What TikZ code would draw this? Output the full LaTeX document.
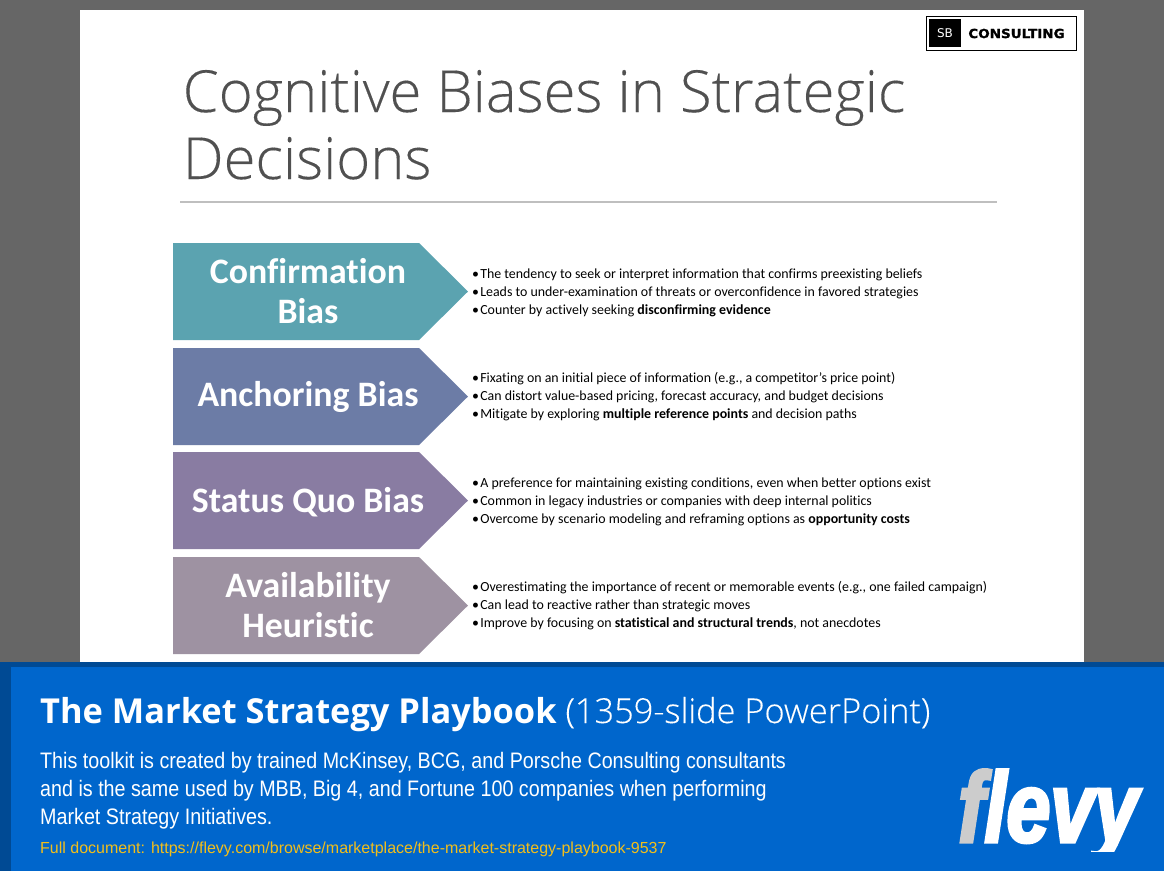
\documentclass[tikz,border=0pt]{standalone}
\usepackage{fontspec}
\setmainfont[RawFeature={-liga;-clig}]{Carlito}
\newfontfamily\titlefont[FakeBold=0.2]{Open Sans Light}
\newfontfamily\bandfont{Open Sans}
\newfontfamily\arialfont[FakeStretch=0.88]{Liberation Sans}
\newfontfamily\linkfont{Liberation Sans}
\newfontfamily\logofont{DejaVu Sans}
\newfontfamily\logoboldfont[FakeStretch=1.08,FakeBold=1.5]{DejaVu Sans Bold}
\newfontfamily\flevyfont[FakeStretch=0.79,FakeBold=3]{Liberation Sans Bold Italic}
\definecolor{slidegray}{HTML}{666666}
\definecolor{banddark}{HTML}{004A94}
\definecolor{bandblue}{HTML}{0066CC}
\definecolor{titlegray}{HTML}{505050}
\definecolor{rulegray}{HTML}{BFBFBF}
\definecolor{linkyellow}{HTML}{F2BE1A}
\definecolor{flevygray}{HTML}{CCCCCC}
\definecolor{biasteal}{HTML}{5BA3B0}
\definecolor{biasblue}{HTML}{6C7CA6}
\definecolor{biaspurple}{HTML}{897CA2}
\definecolor{biasmauve}{HTML}{9E92A2}
\newcommand{\bul}{•\kern1.2pt}
\tikzset{
  biastext/.style = {text = white, align = center, font = \fontsize{35.8}{40}\selectfont\bfseries},
  pointtext/.style = {anchor = base west, align = left, inner sep = 0pt,
    font = \fontsize{13.9}{18}\selectfont},
  bandtext/.style = {anchor = base west, inner sep = 0pt, text = white}
}
\begin{document}
\begin{tikzpicture}[x = 1pt, y = -1pt]
\useasboundingbox (0, 0) rectangle (1164, 871);
\fill[color = slidegray] (0, 0) rectangle (1164, 871);
\fill[color = white] (80, 10) rectangle (1084, 662);
% logo top right
\draw[line width = 1pt, fill = white] (926.5, 16.5) rectangle (1076.5, 50.5);
\fill[color = black] (929, 19) rectangle (961, 47);
\node (sbmark) at (945, 33) [text = white, inner sep = 0pt, font = \logofont\fontsize{12}{12}\selectfont] {SB};
\node (sbname) at (1016.5, 33.5) [inner sep = 0pt, font = \logoboldfont\fontsize{12.5}{12}\selectfont] {CONSULTING};
% title
\node (slidetitle) at (182.5, 179) [anchor = base west, inner sep = 0pt, align = left, text = titlegray,
  font = \titlefont\fontsize{58}{67}\selectfont] {Cognitive Biases in Strategic\\Decisions};
\draw[color = rulegray, line width = 1.2pt] (180, 202) to (997, 202);
% the four arrows
\foreach \top/\col in {243/biasteal, 348/biasblue, 452/biaspurple, 557/biasmauve}
  \fill[color = \col] (173, \top) -- (419, \top) -- (468, \top + 48.5) -- (419, \top + 97) -- (173, \top + 97) -- cycle;
\node (confirmation) at (308, 291) [biastext] {Confirmation\\Bias};
\node (anchoring) at (308, 397) [biastext] {Anchoring Bias};
\node (statusquo) at (308, 502) [biastext] {Status Quo Bias};
\node (availability) at (308, 605) [biastext] {Availability\\Heuristic};
% bullets
\node (confirmpoints) at (472, 314.5) [pointtext] {
  \bul The tendency to seek or interpret information that confirms preexisting beliefs\\
  \bul Leads to under-examination of threats or overconfidence in favored strategies\\
  \bul Counter by actively seeking \textbf{disconfirming evidence}};
\node (anchorpoints) at (472, 418.5) [pointtext] {
  \bul Fixating on an initial piece of information (e.g., a competitor’s price point)\\
  \bul Can distort value-based pricing, forecast accuracy, and budget decisions\\
  \bul Mitigate by exploring \textbf{multiple reference points} and decision paths};
\node (statuspoints) at (472, 523.5) [pointtext] {
  \bul A preference for maintaining existing conditions, even when better options exist\\
  \bul Common in legacy industries or companies with deep internal politics\\
  \bul Overcome by scenario modeling and reframing options as \textbf{opportunity costs}};
\node (availpoints) at (472, 627.5) [pointtext] {
  \bul Overestimating the importance of recent or memorable events (e.g., one failed campaign)\\
  \bul Can lead to reactive rather than strategic moves\\
  \bul Improve by focusing on \textbf{statistical and structural trends}, not anecdotes};
% bottom band
\fill[color = banddark] (0, 662) rectangle (1164, 871);
\fill[color = bandblue] (11, 667) rectangle (1164, 871);
\node (bandtitle) at (40, 723) [bandtext, font = \bandfont\fontsize{34.4}{40}\selectfont] {\textbf{The Market Strategy Playbook} {\titlefont (1359-slide PowerPoint)}};
\node (bandbody) at (40, 824.5) [bandtext, align = left, font = \arialfont\fontsize{22.4}{27.8}\selectfont] {This toolkit is created by trained McKinsey, BCG, and Porsche Consulting consultants\\and is the same used by MBB, Big 4, and Fortune 100 companies when performing\\Market Strategy Initiatives.};
\node (bandlink) at (40, 853) [bandtext, text = linkyellow, font = \linkfont\fontsize{16}{18}\selectfont] {Full document: https://flevy.com/browse/marketplace/the-market-strategy-playbook-9537};
\begin{scope}
\clip (950, 760) rectangle (1160, 851);
\node (flevylogo) at (958, 842) [bandtext, font = \flevyfont\fontsize{100}{100}\selectfont] {\textcolor{flevygray}{f}levy};
\end{scope}
\end{tikzpicture}
\end{document}
